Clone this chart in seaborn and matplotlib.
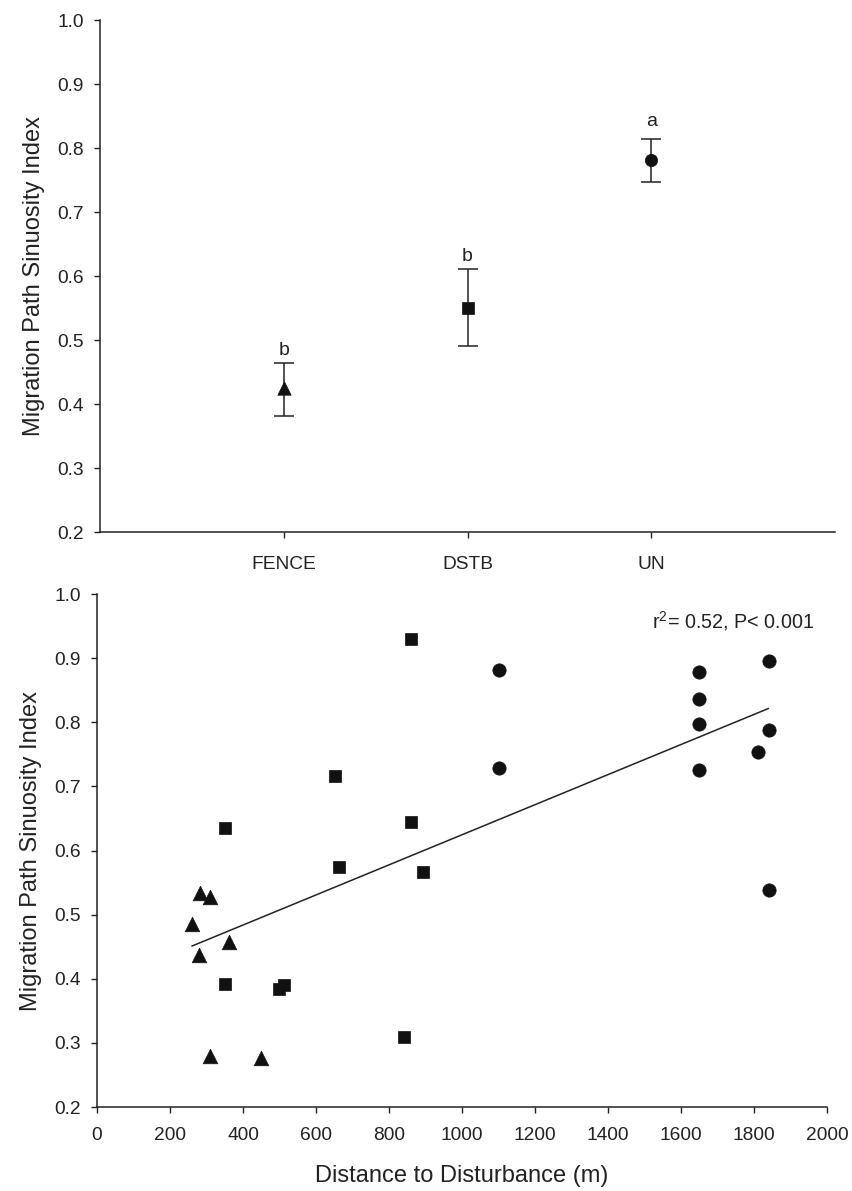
import numpy as np
import pandas as pd
import matplotlib
matplotlib.use("Agg")
import matplotlib.pyplot as plt
import seaborn as sns

# ── Top panel: group means with error bars ────────────────────────────────
groups      = ["FENCE", "DSTB", "UN"]
group_mean  = [0.425, 0.550, 0.781]
group_upper = [0.464, 0.611, 0.814]
group_lower = [0.382, 0.491, 0.747]
group_letter = ["b", "b", "a"]
letter_y     = [0.483, 0.630, 0.842]

# ── Bottom panel: individual paths ────────────────────────────────────────
fence_dist = [281, 311, 260, 362, 280, 311, 450]
fence_sin  = [0.534, 0.527, 0.485, 0.457, 0.437, 0.280, 0.276]

dstb_dist = [861, 651, 350, 861, 662, 892, 350, 500, 512, 840]
dstb_sin  = [0.930, 0.716, 0.635, 0.644, 0.574, 0.566, 0.392, 0.384, 0.391, 0.310]

un_dist = [1101, 1101, 1650, 1650, 1650, 1650, 1840, 1840, 1810, 1840]
un_sin  = [0.881, 0.728, 0.879, 0.837, 0.798, 0.725, 0.896, 0.788, 0.754, 0.539]

stat_text = r"r$^2$= 0.52, P< 0.001"

sns.set_style("ticks")
plt.rcParams["font.family"] = ["Liberation Sans", "DejaVu Sans"]
plt.rcParams["mathtext.fontset"] = "custom"
plt.rcParams["mathtext.rm"] = "Liberation Sans"

INK = "#222222"
MARK = "#111111"
markers = {"FENCE": "^", "DSTB": "s", "UN": "o"}
sizes = {"FENCE": 110, "DSTB": 82, "UN": 92}

fig = plt.figure(figsize=(8.52, 11.91), dpi=100)
fig.patch.set_facecolor("white")
ax1 = fig.add_axes([0.1174, 0.5533, 0.8627, 0.4299])
ax2 = fig.add_axes([0.1138, 0.0705, 0.8568, 0.4307])

# ── Top panel ─────────────────────────────────────────────────────────────
xpos = np.arange(len(groups))
mean = np.array(group_mean)
yerr = np.vstack([mean - np.array(group_lower), np.array(group_upper) - mean])
ax1.errorbar(xpos, mean, yerr=yerr, fmt="none", ecolor=INK, elinewidth=1.1,
             capsize=7, capthick=1.1, zorder=2)
top_df = pd.DataFrame({"x": xpos, "y": mean, "grp": groups})
for g in groups:
    sub = top_df[top_df["grp"] == g]
    sns.scatterplot(data=sub, x="x", y="y", marker=markers[g], s=sizes[g] * 0.85,
                    color=MARK, edgecolor=MARK, linewidth=0.5, ax=ax1, zorder=3)
for x, ly, t in zip(xpos, letter_y, group_letter):
    ax1.text(x, ly, t, ha="center", va="center", fontsize=14, color=INK)

ax1.set_xlim(-1.0, 3.0)
ax1.set_ylim(0.2, 1.0)
ax1.set_xticks(xpos)
ax1.set_xticklabels(groups)
ax1.set_yticks(np.arange(0.2, 1.01, 0.1))
ax1.set_yticklabels([f"{v:.1f}" for v in np.arange(0.2, 1.01, 0.1)])
ax1.set_xlabel("")
ax1.set_ylabel("Migration Path Sinuosity Index", fontsize=17, color=INK, labelpad=9)

# ── Bottom panel ──────────────────────────────────────────────────────────
pts = pd.DataFrame({
    "dist": fence_dist + dstb_dist + un_dist,
    "sin": fence_sin + dstb_sin + un_sin,
    "grp": ["FENCE"] * len(fence_dist) + ["DSTB"] * len(dstb_dist) + ["UN"] * len(un_dist),
})
sns.regplot(data=pts, x="dist", y="sin", scatter=False, ci=None, truncate=True,
            line_kws={"color": INK, "linewidth": 1.1}, ax=ax2)
for g in groups:
    sub = pts[pts["grp"] == g]
    sns.scatterplot(data=sub, x="dist", y="sin", marker=markers[g], s=sizes[g],
                    color=MARK, edgecolor=MARK, linewidth=0.5, ax=ax2, zorder=3)
ax2.text(1966, 0.958, stat_text, ha="right", va="center", fontsize=14.2, color=INK)

ax2.set_xlim(0, 2000)
ax2.set_ylim(0.2, 1.0)
ax2.set_xticks(np.arange(0, 2001, 200))
ax2.set_yticks(np.arange(0.2, 1.01, 0.1))
ax2.set_yticklabels([f"{v:.1f}" for v in np.arange(0.2, 1.01, 0.1)])
ax2.set_xlabel("Distance to Disturbance (m)", fontsize=17, color=INK, labelpad=15)
ax2.set_ylabel("Migration Path Sinuosity Index", fontsize=17, color=INK, labelpad=9)

for ax in (ax1, ax2):
    sns.despine(ax=ax)
    for side in ("left", "bottom"):
        ax.spines[side].set_color(INK)
        ax.spines[side].set_linewidth(1.1)
    ax.tick_params(axis="both", direction="out", length=4.5, width=1.0,
                   colors=INK, labelsize=13.8)
    ax.tick_params(axis="y", pad=7)
ax1.tick_params(axis="x", pad=13)
ax2.tick_params(axis="x", pad=10)

fig.savefig("out.png", dpi=100, facecolor="white")
